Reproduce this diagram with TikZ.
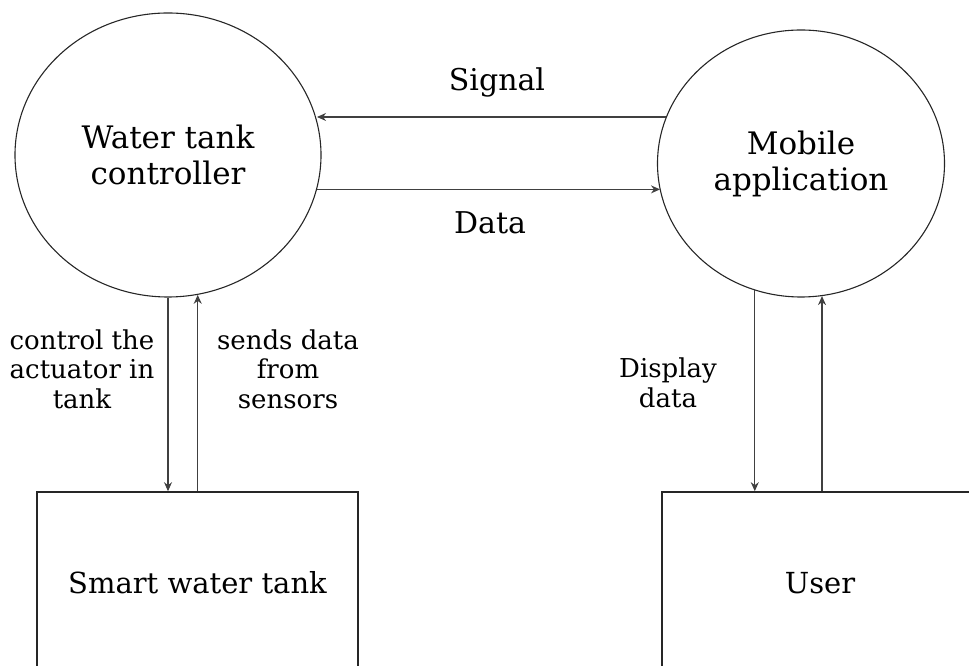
\documentclass[tikz,border=0pt]{standalone}
\usepackage{fontspec}
\setmainfont{DejaVu Serif}
\usetikzlibrary{shapes.geometric,arrows.meta}
\begin{document}
\begin{tikzpicture}[x=1pt,y=1pt,
  proc/.style={draw=black!85,line width=1.1pt,ellipse,inner sep=0pt,align=center,
     font=\fontsize{31}{36}\selectfont},
  ent/.style={draw=black!85,line width=1.6pt,rectangle,inner sep=0pt,
     font=\fontsize{29}{34}\selectfont},
  lbl/.style={align=center,inner sep=0pt,font=\fontsize{26}{29.5}\selectfont},
  flow/.style={draw=black!75,line width=1.1pt,-{Stealth[length=9pt,width=8pt]}}]
\useasboundingbox (0,0) rectangle (969,666);
\clip (0,0) rectangle (969,666);
% processes
\node[proc,minimum width=306pt,minimum height=284pt] (ctrl) at (168,511) {Water tank\\controller};
\node[proc,minimum width=287pt,minimum height=267pt] (app) at (801,502.5) {Mobile\\application};
% entities
\node[ent,minimum width=321pt,minimum height=182pt] (tank) at (197.5,83) {Smart water tank};
\node[ent,minimum width=316pt,minimum height=182pt] (user) at (820,83) {User};
% horizontal flows
\draw[flow] (app.161.8) -- (app.161.8 -| ctrl.13.7);
\draw[flow] (ctrl.-13.4) -- (ctrl.-13.4 -| app.-169.3);
\node[lbl,font=\fontsize{30}{34}\selectfont] (sig) at (497,584) {Signal};
\node[lbl,font=\fontsize{30}{34}\selectfont] (dat) at (490,443) {Data};
% vertical flows left
\draw[flow] (ctrl.-90.8) -- (ctrl.-90.8 |- tank.north);
\draw[flow] (ctrl.-78.2 |- tank.north) -- (ctrl.-78.2);
\node[lbl] (l1) at (82,297) {control the\\actuator in\\tank};
\node[lbl] (l2) at (288,297) {sends data\\from\\sensors};
% vertical flows right
\draw[flow] (app.-110.9) -- (app.-110.9 |- user.north);
\draw[flow] (app.-81.4 |- user.north) -- (app.-81.4);
\node[lbl] (l3) at (668,283) {Display\\data};
\end{tikzpicture}
\end{document}
